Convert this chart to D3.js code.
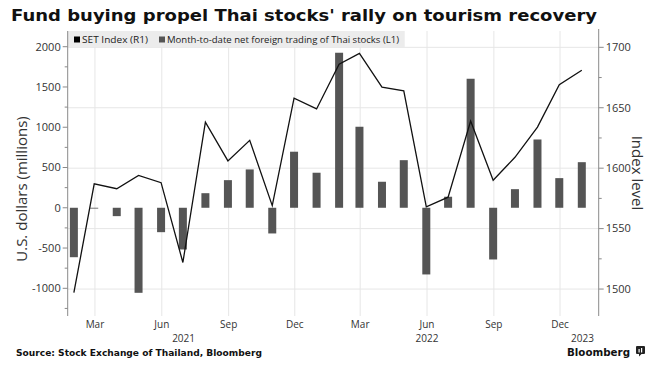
<!DOCTYPE html>
<html>
<head>
<meta charset="utf-8">
<script src="https://cdn.jsdelivr.net/npm/d3@7"></script>
<style>
  html, body { margin: 0; padding: 0; background: #fff; }
  svg { display: block; }
</style>
</head>
<body>
<div id="chart"></div>
<script>
// month-end data points, jan 2021 .. dec 2022
const months = [
  "2021-01", "2021-02", "2021-03", "2021-04", "2021-05", "2021-06",
  "2021-07", "2021-08", "2021-09", "2021-10", "2021-11", "2021-12",
  "2022-01", "2022-02", "2022-03", "2022-04", "2022-05", "2022-06",
  "2022-07", "2022-08", "2022-09", "2022-10", "2022-11", "2022-12"
];

// SET index level (right axis)
const setIndex = [
  1497, 1587, 1583, 1594, 1588, 1522, 1638, 1606, 1623, 1569, 1658, 1649,
  1686, 1695, 1667, 1664, 1568, 1576, 1639, 1590, 1609, 1634, 1669, 1681
];

// month-to-date net foreign trading, US$ millions (left axis)
const netForeign = [
  -614, -8, -104, -1056, -303, -518, 181, 343, 476, -319, 696, 435,
  1925, 1006, 323, 591, -828, 137, 1602, -642, 231, 848, 368, 566
];

const leftTicks = [-1000, -500, 0, 500, 1000, 1500, 2000];
const rightTicks = [1500, 1550, 1600, 1650, 1700];
const quarterTicks = ["2021-03", "2021-06", "2021-09", "2021-12", "2022-03", "2022-06", "2022-09", "2022-12"];
const yearLabels = [["2021", "2021-07"], ["2022", "2022-06"], ["2023", "2023-01"]];

const width = 661;
const height = 367;
const plot = { left: 67.7, right: 598.7, top: 31, bottom: 316 };

const parseMonth = d3.timeParse("%Y-%m");
const monthEnd = s => { const d = parseMonth(s); return new Date(d.getFullYear(), d.getMonth() + 1, 0); };

const svg = d3.select("#chart").append("svg")
  .attr("width", width)
  .attr("height", height);

// scales
const x = d3.scaleTime()
  .domain([new Date(2021, 0, 22, 12), new Date(2023, 0, 23, 6)])
  .range([plot.left, plot.right]);

const yL = d3.scaleLinear()
  .domain([-1344, 2195])
  .range([plot.bottom, plot.top]);

const yR = d3.scaleLinear()
  .domain([1477.7, 1713.5])
  .range([plot.bottom, plot.top]);

const tickFont = "'Open Sans', 'DejaVu Sans', sans-serif";

// title
svg.append("text")
  .attr("x", 11)
  .attr("y", 21)
  .style("font-family", "'DejaVu Sans', sans-serif")
  .style("font-weight", "bold")
  .style("font-size", "16px")
  .attr("textLength", 586)
  .attr("lengthAdjust", "spacingAndGlyphs")
  .attr("fill", "#111")
  .text("Fund buying propel Thai stocks' rally on tourism recovery");

// gridlines (right axis levels + quarter months)
const grid = svg.append("g").attr("stroke", "#e6e6e6").attr("stroke-width", 1);
grid.selectAll("line.h")
  .data(rightTicks)
  .join("line")
  .attr("x1", plot.left).attr("x2", plot.right)
  .attr("y1", d => yR(d)).attr("y2", d => yR(d));
grid.selectAll("line.v")
  .data(quarterTicks)
  .join("line")
  .attr("x1", d => x(parseMonth(d))).attr("x2", d => x(parseMonth(d)))
  .attr("y1", plot.top).attr("y2", plot.bottom);

// legend box
const legend = svg.append("g");
legend.append("rect")
  .attr("x", plot.left).attr("y", 31)
  .attr("width", 337).attr("height", 16)
  .attr("fill", "#ececec");
legend.append("rect").attr("x", 74).attr("y", 36.5).attr("width", 6).attr("height", 6).attr("fill", "#000");
legend.append("text")
  .attr("x", 82).attr("y", 43)
  .style("font-family", tickFont).style("font-size", "9.5px")
  .attr("textLength", 66).attr("lengthAdjust", "spacingAndGlyphs")
  .attr("fill", "#222")
  .text("SET Index (R1)");
legend.append("rect").attr("x", 159).attr("y", 36.5).attr("width", 6).attr("height", 6).attr("fill", "#555");
legend.append("text")
  .attr("x", 167).attr("y", 43)
  .style("font-family", tickFont).style("font-size", "9.5px")
  .attr("textLength", 232).attr("lengthAdjust", "spacingAndGlyphs")
  .attr("fill", "#222")
  .text("Month-to-date net foreign trading of Thai stocks (L1)");

// bars
svg.append("g")
  .selectAll("rect")
  .data(netForeign)
  .join("rect")
  .attr("x", (d, i) => x(monthEnd(months[i])) - 4)
  .attr("y", d => yL(Math.max(0, d)))
  .attr("width", 8)
  .attr("height", d => Math.max(0.8, Math.abs(yL(d) - yL(0))))
  .attr("fill", "#555");

// SET index line
const line = d3.line()
  .x((d, i) => x(monthEnd(months[i])))
  .y(d => yR(d));

svg.append("path")
  .datum(setIndex)
  .attr("d", line)
  .attr("fill", "none")
  .attr("stroke", "#111")
  .attr("stroke-width", 1.3);

// axis lines
const axes = svg.append("g").attr("stroke", "#8a8a8a").attr("stroke-width", 1);
axes.append("line").attr("x1", plot.left).attr("x2", plot.left).attr("y1", plot.top).attr("y2", plot.bottom);
axes.append("line").attr("x1", plot.right).attr("x2", plot.right).attr("y1", plot.top - 2).attr("y2", plot.bottom);

// left ticks
const leftMinor = d3.range(-1250, 2000, 500);
axes.selectAll("line.lmaj").data(leftTicks).join("line")
  .attr("x1", plot.left - 5).attr("x2", plot.left)
  .attr("y1", d => yL(d)).attr("y2", d => yL(d));
axes.selectAll("line.lmin").data(leftMinor).join("line")
  .attr("x1", plot.left - 3).attr("x2", plot.left)
  .attr("y1", d => yL(d)).attr("y2", d => yL(d));

svg.append("g").selectAll("text")
  .data(leftTicks)
  .join("text")
  .attr("x", plot.left - 7)
  .attr("y", d => yL(d))
  .attr("dy", "0.35em")
  .attr("text-anchor", "end")
  .style("font-family", tickFont).style("font-size", "11px")
  .attr("fill", "#333")
  .text(d => String(d));

// right ticks
const rightMinor = d3.range(1525, 1700, 50);
axes.selectAll("line.rmaj").data(rightTicks).join("line")
  .attr("x1", plot.right).attr("x2", plot.right + 5)
  .attr("y1", d => yR(d)).attr("y2", d => yR(d));
axes.selectAll("line.rmin").data(rightMinor).join("line")
  .attr("x1", plot.right).attr("x2", plot.right + 3)
  .attr("y1", d => yR(d)).attr("y2", d => yR(d));

svg.append("g").selectAll("text")
  .data(rightTicks)
  .join("text")
  .attr("x", plot.right + 7)
  .attr("y", d => yR(d))
  .attr("dy", "0.35em")
  .style("font-family", tickFont).style("font-size", "11px")
  .attr("fill", "#333")
  .text(d => String(d));

// x axis month + year labels
svg.append("g").selectAll("text")
  .data(quarterTicks)
  .join("text")
  .attr("x", d => x(parseMonth(d)))
  .attr("y", 327.5)
  .attr("text-anchor", "middle")
  .style("font-family", tickFont).style("font-size", "10px")
  .attr("fill", "#333")
  .text(d => d3.timeFormat("%b")(parseMonth(d)));

svg.append("g").selectAll("text")
  .data(yearLabels)
  .join("text")
  .attr("x", d => x(parseMonth(d[1])))
  .attr("y", 341.5)
  .attr("text-anchor", "middle")
  .style("font-family", tickFont).style("font-size", "10px")
  .attr("fill", "#333")
  .text(d => d[0]);

// axis titles
svg.append("text")
  .attr("transform", "translate(27,189) rotate(-90)")
  .attr("text-anchor", "middle")
  .style("font-family", tickFont).style("font-size", "15px")
  .attr("fill", "#333")
  .text("U.S. dollars (millions)");

svg.append("text")
  .attr("transform", "translate(632,173) rotate(90)")
  .attr("text-anchor", "middle")
  .style("font-family", tickFont).style("font-size", "15px")
  .attr("fill", "#333")
  .text("Index level");

// footer
svg.append("text")
  .attr("x", 16).attr("y", 355.5)
  .style("font-family", "'DejaVu Sans', sans-serif")
  .style("font-weight", "bold").style("font-size", "8.5px")
  .attr("textLength", 246).attr("lengthAdjust", "spacingAndGlyphs")
  .attr("fill", "#111")
  .text("Source: Stock Exchange of Thailand, Bloomberg");

svg.append("text")
  .attr("x", 567).attr("y", 355.5)
  .style("font-family", "'DejaVu Sans', sans-serif")
  .style("font-weight", "bold").style("font-size", "11px")
  .attr("textLength", 63).attr("lengthAdjust", "spacingAndGlyphs")
  .attr("fill", "#111")
  .text("Bloomberg");

// little terminal logo
const logo = svg.append("g").attr("transform", "translate(636,346)");
logo.append("rect").attr("width", 9).attr("height", 8).attr("rx", 1).attr("fill", "#222");
logo.append("path").attr("d", "M3,8 L3,10.5 L5.5,8 Z").attr("fill", "#222");
logo.append("rect").attr("x", 2.5).attr("y", 3).attr("width", 1.2).attr("height", 3.5).attr("fill", "#fff");
logo.append("rect").attr("x", 5).attr("y", 2).attr("width", 1.2).attr("height", 4.5).attr("fill", "#fff");
</script>
</body>
</html>
